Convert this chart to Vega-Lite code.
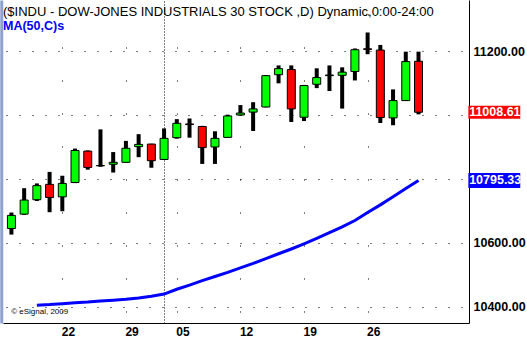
{
  "$schema": "https://vega.github.io/schema/vega-lite/v6.json",
  "width": 466,
  "height": 323,
  "autosize": {"type": "none"},
  "padding": {"left": 3, "top": 0, "right": 58, "bottom": 36},
  "background": "white",
  "config": {"view": {"stroke": null}, "font": "Liberation Sans"},
  "title": {
    "text": "($INDU - DOW-JONES INDUSTRIALS 30 STOCK ,D) Dynamic,0:00-24:00",
    "subtitle": "MA(50,C)s",
    "anchor": "start",
    "frame": "group",
    "font": "Liberation Sans",
    "fontSize": 13,
    "fontWeight": "normal",
    "color": "black",
    "subtitleFont": "Liberation Sans",
    "subtitleFontSize": 12.5,
    "subtitleFontWeight": "bold",
    "subtitleColor": "#0000ff",
    "subtitlePadding": 1,
    "offset": 0,
    "dy": 52
  },
  "data": {
    "values": [
      {"date": "2010-03-16", "i": 0, "open": 10645, "high": 10695, "low": 10626, "close": 10686, "ma": null},
      {"date": "2010-03-17", "i": 1, "open": 10690, "high": 10771, "low": 10688, "close": 10734, "ma": null},
      {"date": "2010-03-18", "i": 2, "open": 10735, "high": 10786, "low": 10731, "close": 10779, "ma": 10405},
      {"date": "2010-03-19", "i": 3, "open": 10783, "high": 10822, "low": 10696, "close": 10742, "ma": 10407},
      {"date": "2010-03-22", "i": 4, "open": 10744, "high": 10810, "low": 10699, "close": 10786, "ma": 10410},
      {"date": "2010-03-23", "i": 5, "open": 10789, "high": 10895, "low": 10787, "close": 10889, "ma": 10413},
      {"date": "2010-03-24", "i": 6, "open": 10887, "high": 10889, "low": 10829, "close": 10836, "ma": 10415},
      {"date": "2010-03-25", "i": 7, "open": 10842, "high": 10955, "low": 10838, "close": 10841, "ma": 10418},
      {"date": "2010-03-26", "i": 8, "open": 10846, "high": 10884, "low": 10820, "close": 10852, "ma": 10421},
      {"date": "2010-03-29", "i": 9, "open": 10852, "high": 10919, "low": 10851, "close": 10896, "ma": 10424},
      {"date": "2010-03-30", "i": 10, "open": 10901, "high": 10940, "low": 10868, "close": 10908, "ma": 10428},
      {"date": "2010-03-31", "i": 11, "open": 10909, "high": 10910, "low": 10835, "close": 10857, "ma": 10433},
      {"date": "2010-04-01", "i": 12, "open": 10861, "high": 10958, "low": 10860, "close": 10927, "ma": 10440},
      {"date": "2010-04-05", "i": 13, "open": 10929, "high": 10987, "low": 10926, "close": 10974, "ma": 10455},
      {"date": "2010-04-06", "i": 14, "open": 10972, "high": 10989, "low": 10929, "close": 10970, "ma": 10468},
      {"date": "2010-04-07", "i": 15, "open": 10964, "high": 10966, "low": 10847, "close": 10898, "ma": 10482},
      {"date": "2010-04-08", "i": 16, "open": 10900, "high": 10949, "low": 10847, "close": 10927, "ma": 10495},
      {"date": "2010-04-09", "i": 17, "open": 10930, "high": 11001, "low": 10929, "close": 10997, "ma": 10508},
      {"date": "2010-04-12", "i": 18, "open": 11000, "high": 11031, "low": 10998, "close": 11006, "ma": 10522},
      {"date": "2010-04-13", "i": 19, "open": 11009, "high": 11040, "low": 10950, "close": 11019, "ma": 10536},
      {"date": "2010-04-14", "i": 20, "open": 11025, "high": 11125, "low": 11024, "close": 11123, "ma": 10551},
      {"date": "2010-04-15", "i": 21, "open": 11126, "high": 11155, "low": 11099, "close": 11145, "ma": 10566},
      {"date": "2010-04-16", "i": 22, "open": 11142, "high": 11155, "low": 10978, "close": 11019, "ma": 10581},
      {"date": "2010-04-19", "i": 23, "open": 10993, "high": 11094, "low": 10981, "close": 11092, "ma": 10597},
      {"date": "2010-04-20", "i": 24, "open": 11096, "high": 11146, "low": 11084, "close": 11117, "ma": 10614},
      {"date": "2010-04-21", "i": 25, "open": 11123, "high": 11155, "low": 11075, "close": 11125, "ma": 10632},
      {"date": "2010-04-22", "i": 26, "open": 11124, "high": 11149, "low": 11020, "close": 11134, "ma": 10650},
      {"date": "2010-04-23", "i": 27, "open": 11136, "high": 11208, "low": 11108, "close": 11204, "ma": 10670},
      {"date": "2010-04-26", "i": 28, "open": 11207, "high": 11258, "low": 11190, "close": 11205, "ma": 10695},
      {"date": "2010-04-27", "i": 29, "open": 11203, "high": 11219, "low": 10975, "close": 10992, "ma": 10719},
      {"date": "2010-04-28", "i": 30, "open": 10991, "high": 11080, "low": 10968, "close": 11045, "ma": 10744},
      {"date": "2010-04-29", "i": 31, "open": 11045, "high": 11198, "low": 11044, "close": 11167, "ma": 10770},
      {"date": "2010-04-30", "i": 32, "open": 11168, "high": 11198, "low": 11002, "close": 11008.61, "ma": 10795.33}
    ]
  },
  "layer": [
    {
      "mark": {"type": "rule", "color": "black", "strokeWidth": 4},
      "encoding": {
        "x": {
          "field": "i", "type": "quantitative",
          "scale": {"domain": [-0.2692, 35.577], "nice": false, "zero": false},
          "axis": {
            "values": [4, 9, 13, 18, 23, 28],
            "labelExpr": "datum.value == 4 ? '22' : datum.value == 9 ? '29' : datum.value == 13 ? '05' : datum.value == 18 ? '12' : datum.value == 23 ? '19' : '26'",
            "labelAlign": "left", "labelOffset": -1, "labelBaseline": "top", "labelPadding": 3,
            "labelFont": "Liberation Sans", "labelFontSize": 12, "labelFontWeight": "bold", "labelColor": "black",
            "labelFlush": false, "labelOverlap": false,
            "ticks": false, "domain": true, "domainColor": "black", "domainWidth": 1,
            "grid": true, "gridColor": "black", "gridWidth": 1, "gridDash": [1, 32], "gridDashOffset": 19,
            "title": null
          }
        },
        "y": {
          "field": "low", "type": "quantitative",
          "scale": {"domain": [10365.15, 11343.94], "nice": false, "zero": false},
          "axis": {
            "orient": "right",
            "values": [10400, 10600, 11200],
            "format": ".2f",
            "labelFont": "Liberation Sans", "labelFontSize": 12.5, "labelFontWeight": "bold", "labelColor": "black",
            "labelPadding": 4, "labelFlush": false, "labelOverlap": false,
            "ticks": false, "domain": true, "domainColor": "black", "domainWidth": 1,
            "grid": false, "title": null
          }
        },
        "y2": {"field": "high"}
      }
    },
    {
      "mark": {"type": "line", "color": "#0000ff", "strokeWidth": 3},
      "encoding": {
        "x": {
          "field": "i", "type": "quantitative",
          "axis": {
            "values": [12],
            "labelExpr": "'Apr'",
            "labelAlign": "left", "labelOffset": -1, "labelBaseline": "top", "labelPadding": 19,
            "labelFont": "Liberation Sans", "labelFontSize": 12, "labelFontWeight": "bold", "labelColor": "black",
            "labelFlush": false,
            "ticks": false, "domain": false,
            "grid": true, "gridColor": "black", "gridWidth": 1, "gridDash": [1, 2],
            "title": null
          }
        },
        "y": {
          "field": "ma", "type": "quantitative",
          "axis": {
            "orient": "left",
            "values": [10400, 10600, 10800, 11000, 11200],
            "labels": false, "ticks": false,
            "domain": true, "domainColor": "#8da2d1", "domainWidth": 3, "offset": 1.75,
            "grid": true, "gridColor": "black", "gridWidth": 1, "gridDash": [1, 12], "gridDashOffset": 10,
            "title": null
          }
        }
      }
    },
    {
      "mark": {"type": "bar", "width": 8, "stroke": "black", "strokeWidth": 1},
      "encoding": {
        "x": {"field": "i", "type": "quantitative", "axis": null},
        "y": {"field": "open", "type": "quantitative", "axis": null},
        "y2": {"field": "close"},
        "color": {"condition": {"test": "datum.close >= datum.open", "value": "#00ff00"}, "value": "#ff0000"}
      }
    },
    {
      "transform": [{"filter": "datum.i == 32"}],
      "layer": [
        {
          "mark": {"type": "bar", "color": "#ff0000", "height": 13},
          "encoding": {
            "x": {"datum": 35.92, "type": "quantitative", "axis": null},
            "x2": {"datum": 40},
            "y": {"field": "close", "type": "quantitative", "axis": null}
          }
        },
        {
          "mark": {"type": "text", "align": "left", "baseline": "middle", "color": "white", "font": "Liberation Sans", "fontSize": 12.5, "fontWeight": "bold"},
          "encoding": {
            "x": {"datum": 35.98, "type": "quantitative", "axis": null},
            "y": {"field": "close", "type": "quantitative", "axis": null},
            "text": {"field": "close", "format": ".2f"}
          }
        },
        {
          "mark": {"type": "bar", "color": "#0000ff", "height": 15},
          "encoding": {
            "x": {"datum": 35.92, "type": "quantitative", "axis": null},
            "x2": {"datum": 40},
            "y": {"field": "ma", "type": "quantitative", "axis": null}
          }
        },
        {
          "mark": {"type": "text", "align": "left", "baseline": "middle", "color": "white", "font": "Liberation Sans", "fontSize": 12.5, "fontWeight": "bold"},
          "encoding": {
            "x": {"datum": 35.98, "type": "quantitative", "axis": null},
            "y": {"field": "ma", "type": "quantitative", "axis": null},
            "text": {"field": "ma", "format": ".2f"}
          }
        },
        {
          "mark": {"type": "text", "align": "left", "baseline": "alphabetic", "color": "black", "font": "Liberation Sans", "fontSize": 8, "text": "© eSignal, 2009"},
          "encoding": {
            "x": {"datum": -0.02, "type": "quantitative", "axis": null},
            "y": {"datum": 10378, "type": "quantitative", "axis": null}
          }
        }
      ]
    }
  ],
  "resolve": {"axis": {"x": "independent", "y": "independent"}}
}
